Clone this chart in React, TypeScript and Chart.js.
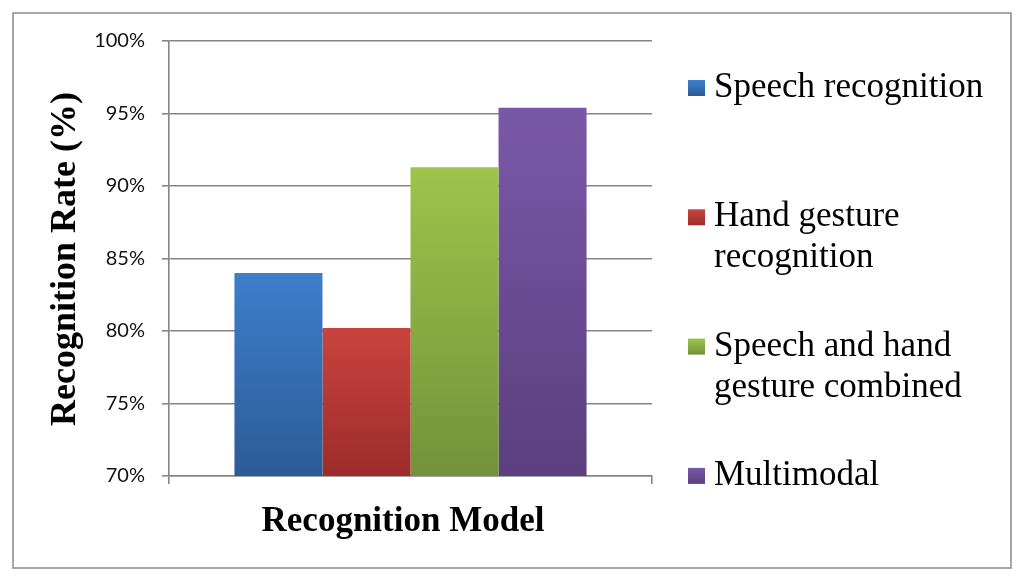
import { useEffect, useRef } from "react";
import Chart from "chart.js/auto";

const categories = [""];
const seriesNames = [
  ["Speech recognition"],
  ["Hand gesture", "recognition"],
  ["Speech and hand", "gesture combined"],
  ["Multimodal"],
];
const seriesValues = [84.0, 80.2, 91.3, 95.4];
const seriesTop = ["#3e7ecb", "#c9433e", "#9cc54b", "#7a58a8"];
const seriesBottom = ["#2c5b97", "#9c2c2a", "#73923a", "#5b3f7f"];
const yTicks = [70, 75, 80, 85, 90, 95, 100];

const SERIF = "'Liberation Serif', 'Times New Roman', serif";

const decorPlugin = {
  id: "decor",
  afterDraw(chart: any) {
    const ctx = chart.ctx as CanvasRenderingContext2D;
    ctx.save();
    // outer frame
    ctx.strokeStyle = "#8a8a8a";
    ctx.lineWidth = 1.5;
    ctx.strokeRect(13, 13, 998, 555);

    // axis titles
    ctx.fillStyle = "#000";
    ctx.font = `bold 35px ${SERIF}`;
    ctx.textAlign = "center";
    ctx.textBaseline = "middle";
    ctx.fillText("Recognition Model", 403, 522);
    ctx.save();
    ctx.font = `bold 36px ${SERIF}`;
    ctx.translate(66, 259);
    ctx.rotate(-Math.PI / 2);
    ctx.fillText("Recognition Rate (%)", 0, 0);
    ctx.restore();

    // legend
    ctx.font = `35px ${SERIF}`;
    ctx.textAlign = "left";
    seriesNames.forEach((lines, i) => {
      const cy = 88 + i * 129.3;
      const g = ctx.createLinearGradient(0, cy - 8, 0, cy + 8);
      g.addColorStop(0, seriesTop[i]);
      g.addColorStop(1, seriesBottom[i]);
      ctx.fillStyle = g;
      ctx.fillRect(688, cy - 8, 17, 16);
      ctx.fillStyle = "#000";
      lines.forEach((t, j) => ctx.fillText(t, 714, cy + j * 41));
    });
    ctx.restore();
  },
};

export default function App() {
  const canvasRef = useRef<HTMLCanvasElement | null>(null);

  useEffect(() => {
    document.body.style.margin = "0";
    const ctx = canvasRef.current?.getContext("2d");
    if (!ctx) return;

    const chart = new Chart(ctx, {
      type: "bar",
      data: {
        labels: categories,
        datasets: seriesValues.map((v, i) => ({
          label: seriesNames[i].join(" "),
          data: [v],
          backgroundColor: (c: any) => {
            const area = c.chart.chartArea;
            const y = c.chart.scales?.y;
            if (!area || !y) return seriesTop[i];
            const g = c.chart.ctx.createLinearGradient(0, y.getPixelForValue(v), 0, area.bottom);
            g.addColorStop(0, seriesTop[i]);
            g.addColorStop(1, seriesBottom[i]);
            return g;
          },
          borderWidth: 0,
          barPercentage: 1,
          categoryPercentage: 0.729,
        })),
      },
      options: {
        responsive: false,
        animation: false,
        layout: { padding: { top: 41, right: 372, bottom: 0, left: 0 } },
        plugins: { legend: { display: false }, tooltip: { enabled: false } },
        scales: {
          x: {
            offset: true,
            afterFit: (s: any) => {
              s.height = 109;
            },
            border: { display: true, color: "#858585", width: 1.6 },
            grid: { drawOnChartArea: false, drawTicks: true, tickLength: 8, color: "#858585", lineWidth: 1.6, offset: true },
            ticks: { display: false },
          },
          y: {
            min: yTicks[0],
            max: yTicks[yTicks.length - 1],
            afterFit: (s: any) => {
              s.width = 169;
            },
            afterBuildTicks: (s: any) => {
              s.ticks = yTicks.map((v) => ({ value: v }));
            },
            border: { display: true, color: "#858585", width: 1.6 },
            grid: { color: "#858585", lineWidth: 1.6, tickLength: 7 },
            ticks: {
              padding: 17,
              color: "#111",
              font: { family: "Lato", size: 20 },
              callback: (v: any) => `${v}%`,
            },
          },
        },
      },
      plugins: [decorPlugin],
    });

    return () => chart.destroy();
  }, []);

  return (
    <div style={{ width: 1024, height: 585, background: "#fff" }}>
      <canvas ref={canvasRef} width={1024} height={585} />
    </div>
  );
}
